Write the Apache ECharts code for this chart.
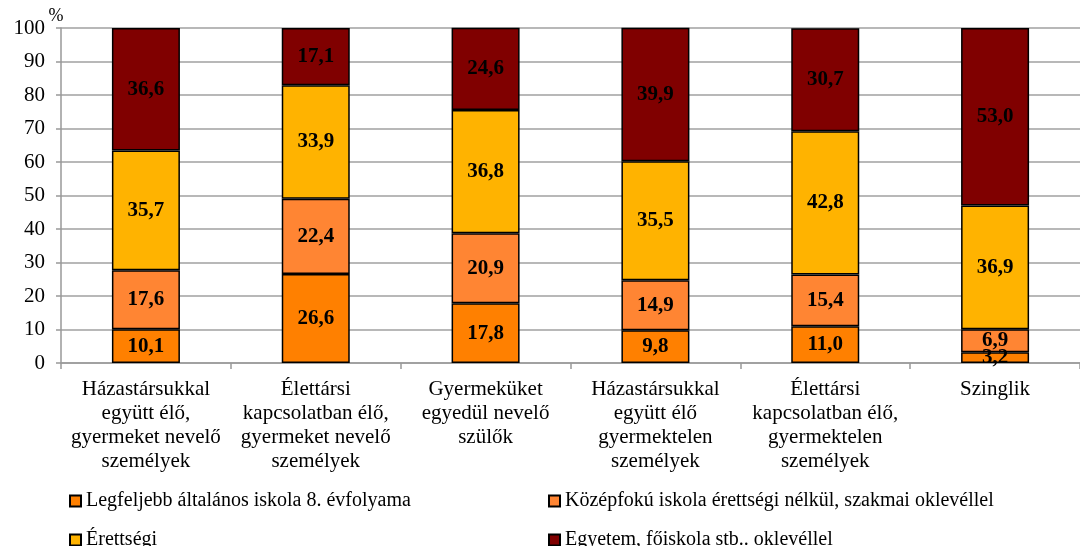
<!DOCTYPE html>
<html>
<head>
<meta charset="utf-8">
<script src="https://cdn.jsdelivr.net/npm/echarts@6/dist/echarts.min.js"></script>
<style>
  html, body { margin: 0; padding: 0; background: #fff; }
  #main { width: 1080px; height: 546px; }
</style>
</head>
<body>
<div id="main"></div>
<script>
const categories = [
  "Házastársukkal\negyütt élő,\ngyermeket nevelő\nszemélyek",
  "Élettársi\nkapcsolatban élő,\ngyermeket nevelő\nszemélyek",
  "Gyermeküket\negyedül nevelő\nszülők",
  "Házastársukkal\negyütt élő\ngyermektelen\nszemélyek",
  "Élettársi\nkapcsolatban élő,\ngyermektelen\nszemélyek",
  "Szinglik"
];
const seriesNames = [
  "Legfeljebb általános iskola 8. évfolyama",
  "Középfokú iskola érettségi nélkül, szakmai oklevéllel",
  "Érettségi",
  "Egyetem, főiskola stb.. oklevéllel"
];
const elementary = [10.1, 26.6, 17.8, 9.8, 11.0, 3.2];
const vocational = [17.6, 22.4, 20.9, 14.9, 15.4, 6.9];
const matura = [35.7, 33.9, 36.8, 35.5, 42.8, 36.9];
const degree = [36.6, 17.1, 24.6, 39.9, 30.7, 53.0];
const colors = ["#ff8000", "#ff8533", "#ffb300", "#800000"];

const font = "'Liberation Serif', 'Times New Roman', serif";
const chart = echarts.init(document.getElementById("main"));

function makeSeries(name, data, color) {
  return {
    name: name,
    type: "bar",
    stack: "total",
    barWidth: 68,
    data: data,
    itemStyle: { color: color, borderColor: "#000", borderWidth: 1.5 },
    label: {
      show: true,
      position: "inside",
      color: "#000",
      fontFamily: font,
      fontWeight: "bold",
      fontSize: 21,
      formatter: p => p.value.toFixed(1).replace(".", ",")
    }
  };
}

function makeLegend(name, left, top) {
  return {
    left: left, top: top,
    itemWidth: 11, itemHeight: 11, icon: "rect",
    data: [name],
    textStyle: { fontFamily: font, fontSize: 20, color: "#000" }
  };
}

chart.setOption({
  animation: false,
  textStyle: { fontFamily: font, color: "#000" },
  grid: { left: 61, right: -10, top: 28, bottom: 183 },
  legend: [
    makeLegend(seriesNames[0], 64, 486),
    makeLegend(seriesNames[1], 543, 486),
    makeLegend(seriesNames[2], 64, 525),
    makeLegend(seriesNames[3], 543, 525)
  ],
  xAxis: {
    type: "category",
    data: categories,
    axisLine: { lineStyle: { color: "#999", width: 1.5 } },
    axisTick: { show: true, length: 6, lineStyle: { color: "#999", width: 1.5 } },
    axisLabel: {
      interval: 0, margin: 14, color: "#000",
      fontFamily: font, fontSize: 21, lineHeight: 24
    }
  },
  yAxis: {
    type: "value",
    min: 0, max: 100, interval: 10,
    name: "%",
    nameLocation: "end",
    nameGap: 3,
    nameMoveOverlap: false,
    nameTextStyle: { fontFamily: font, fontSize: 18, color: "#000", padding: [0, 10, 0, 0] },
    axisLine: { show: true, lineStyle: { color: "#999", width: 1.5 } },
    axisTick: { show: true, length: 5, lineStyle: { color: "#999", width: 1.5 } },
    axisLabel: { margin: 16, color: "#000", fontFamily: font, fontSize: 21 },
    splitLine: { lineStyle: { color: "#a0a0a0", width: 1.5 } }
  },
  series: [
    makeSeries(seriesNames[0], elementary, colors[0]),
    makeSeries(seriesNames[1], vocational, colors[1]),
    makeSeries(seriesNames[2], matura, colors[2]),
    makeSeries(seriesNames[3], degree, colors[3])
  ]
});
</script>
</body>
</html>
